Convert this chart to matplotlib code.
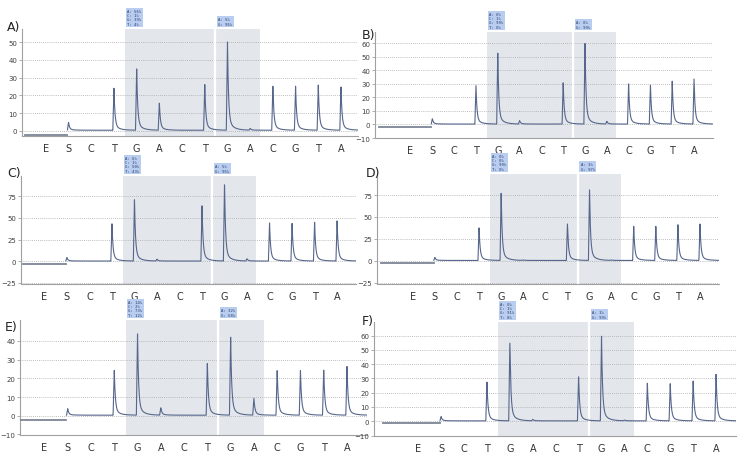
import numpy as np
import matplotlib
matplotlib.use("Agg")
import matplotlib.pyplot as plt

W, H = 742, 456

# dispensation order (E = enzyme, S = substrate)
dispensation = ["E", "S", "C", "T", "G", "A", "C", "T", "G", "A", "C", "G", "T", "A"]

# peak heights for S .. A (positions 2..14)
peaks_A = [4.5, 0, 24, 35.5, 15.5, 0, 26, 51, 1, 25, 25, 26, 25]
peaks_B = [4, 0, 28.5, 53.5, 2.5, 0, 31, 61, 2, 30, 29.5, 32, 33.5]
peaks_C = [4, 0, 44, 72, 2, 0, 65, 90, 2.5, 44, 44, 46, 47]
peaks_D = [3.5, 0, 38, 78, 0.5, 0, 42, 81, 0.5, 39, 39, 41, 42]
peaks_E = [3.5, 0, 24.5, 43.5, 4, 0, 28, 42.5, 9, 24.5, 24, 24.5, 26.5]
peaks_F = [3, 0, 27.5, 55, 1, 0, 31.5, 60, 0.5, 27, 26, 28.5, 33]

# signal level before the substrate dispensation
pre_s = [-2.6, -2.2, -2.7, -2.7, -2.3, -1.4]

# allele quantification shown above the two analysed regions
quant1 = ["A: 56%\nC: 1%\nG: 39%\nT: 4%",
          "A: 0%\nC: 1%\nG: 99%\nT: 0%",
          "A: 6%\nC: 1%\nG: 50%\nT: 43%",
          "A: 0%\nC: 0%\nG: 99%\nT: 0%",
          "A: 14%\nC: 2%\nG: 73%\nT: 12%",
          "A: 0%\nC: 1%\nG: 91%\nT: 8%"]
quant2 = ["A: 5%\nG: 95%", "A: 0%\nG: 99%", "A: 5%\nG: 95%",
          "A: 3%\nG: 97%", "A: 32%\nG: 68%", "A: 1%\nG: 99%"]

panel_names = ["A)", "B)", "C)", "D)", "E)", "F)"]
all_peaks = [peaks_A, peaks_B, peaks_C, peaks_D, peaks_E, peaks_F]

# layout in pixels: left, top, right, bottom
rects = [(22, 30, 358, 136.7), (375, 33, 713, 139),
         (21, 177, 356, 285), (377, 175, 719, 285),
         (20, 321, 367, 436), (374, 323, 736, 437)]
ylims = [(-2.8, 57.5), (-9.5, 68.3), (-26.2, 98.4),
         (-26.6, 99), (-10.3, 51.2), (-10.3, 69.5)]
xlims = [(-0.05, 14.75), (-0.63, 14.87), (-0.04, 14.84),
         (-0.62, 14.86), (-0.05, 14.86), (-0.93, 14.87)]
trace_start = [0.08, -0.45, 0.04, -0.43, 0.0, -0.54]
yticks = [range(0, 51, 10), range(-10, 61, 10), range(-25, 76, 25),
          range(-25, 76, 25), range(-10, 41, 10), range(-10, 61, 10)]
label_pos = [(7, 28), (362, 36), (7, 174), (366, 174), (5, 328), (362, 321)]

line_col = "#56668c"
box_col = "#e3e7ec"
tag_col = "#b8cdf0"


def peak_shape(t):
    out = np.zeros_like(t)
    rise = (t > -0.05) & (t <= 0)
    out[rise] = (t[rise] + 0.05) / 0.05
    dec = t > 0
    out[dec] = 0.88 * np.exp(-t[dec] / 0.045) + 0.12 * np.exp(-t[dec] / 0.22)
    return out


fig = plt.figure(figsize=(W / 100, H / 100), dpi=100)

for k in range(6):
    l, t, r, b = rects[k]
    ax = fig.add_axes([l / W, 1 - b / H, (r - l) / W, (b - t) / H])
    ax.set_xlim(*xlims[k])
    ax.set_ylim(*ylims[k])

    # analysed regions
    ax.axvspan(4.5, 8.42, color=box_col, lw=0, zorder=1)
    ax.axvspan(8.5, 10.42, color=box_col, lw=0, zorder=1)
    for yv in yticks[k]:
        if yv > ylims[k][0] + 1:
            ax.axhline(yv, color="#a8a8a8", lw=0.6, ls=(0, (1, 1.5)), zorder=1.5)
    ax.axvline(8.46, color="white", lw=1.6, zorder=1.8)

    # pyrogram trace
    x = np.linspace(trace_start[k], xlims[k][1], 5000)
    y = np.full_like(x, pre_s[k])
    after = x >= 2 - 0.05
    y[after] = 0.3
    for i, h in enumerate(all_peaks[k]):
        y += h * peak_shape(x - (i + 2))
    ax.plot(x[~after], y[~after], color="#7d8595", lw=1.3, zorder=3)
    ax.plot(x[after], y[after], color=line_col, lw=0.8, zorder=3)

    # quantification tags
    for xpos, txt in [(4.5, quant1[k]), (8.5, quant2[k])]:
        ax.annotate(txt, xy=(xpos, 1.0), xycoords=("data", "axes fraction"),
                    xytext=(1.5, 2.5), textcoords="offset points",
                    ha="left", va="bottom", fontsize=2.8,
                    family="DejaVu Sans Mono", color="#2a3a66",
                    linespacing=1.05,
                    bbox=dict(boxstyle="square,pad=0.35", fc=tag_col, ec="none"),
                    annotation_clip=False)

    ax.set_xticks(range(1, 15))
    ax.set_xticklabels(dispensation, fontsize=7, color="#333333")
    ax.tick_params(axis="x", length=0, pad=5)
    ax.set_yticks(list(yticks[k]))
    ax.tick_params(axis="y", length=2, width=0.6, color="#a0a0a0",
                   labelsize=5, labelcolor="#404040", pad=1.5)
    for side in ["top", "right"]:
        ax.spines[side].set_visible(False)
    for side in ["left", "bottom"]:
        ax.spines[side].set_color("#a0a0a0")
        ax.spines[side].set_linewidth(0.8)

    lx, ly = label_pos[k]
    fig.text(lx / W, 1 - ly / H, panel_names[k], fontsize=9, va="center",
             color="#222222")

fig.savefig("out.png", dpi=100)
